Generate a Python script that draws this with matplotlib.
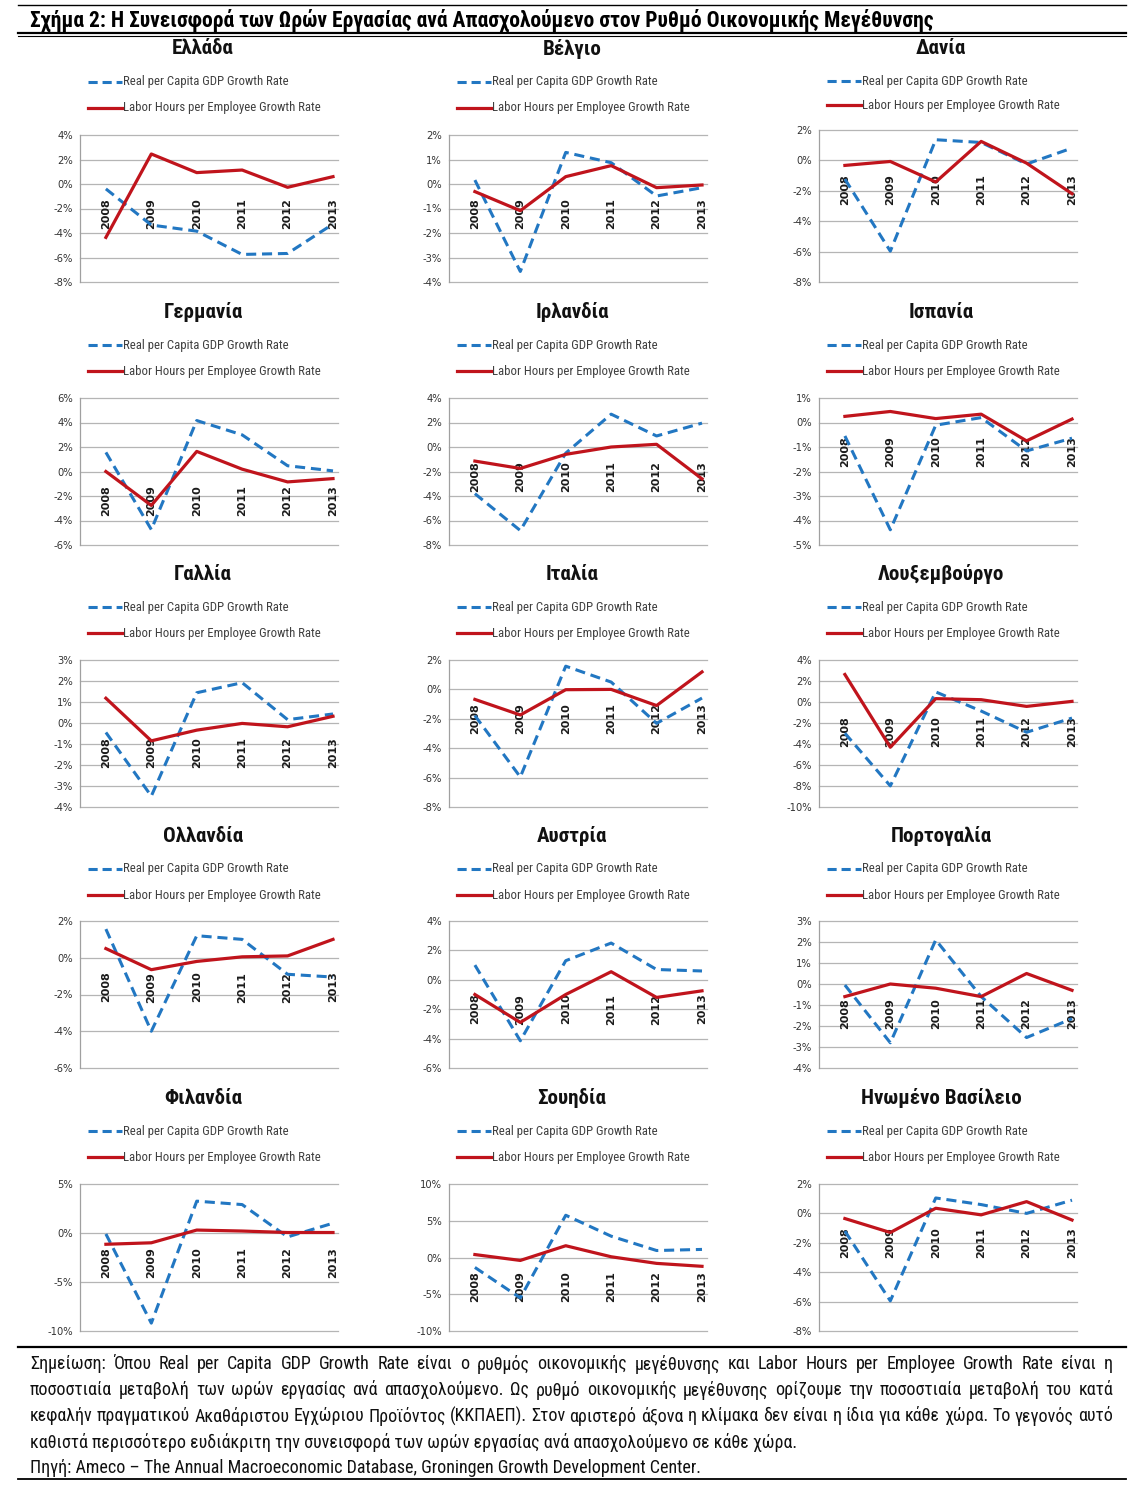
import matplotlib
matplotlib.use('Agg')
import matplotlib.pyplot as plt
from matplotlib import font_manager
from matplotlib.lines import Line2D

# ---------------- DATA ----------------
years = ['2008', '2009', '2010', '2011', '2012', '2013']
countries = ['Ελλάδα', 'Βέλγιο', 'Δανία',
             'Γερμανία', 'Ιρλανδία', 'Ισπανία',
             'Γαλλία', 'Ιταλία', 'Λουξεμβούργο',
             'Ολλανδία', 'Αυστρία', 'Πορτογαλία',
             'Φιλανδία', 'Σουηδία', 'Ηνωμένο Βασίλειο']

gdp_greece = [-0.4, -3.35, -3.85, -5.75, -5.67, -3.27]
hrs_greece = [-4.36, 2.45, 0.93, 1.14, -0.27, 0.6]
gdp_belgium = [0.16, -3.57, 1.29, 0.87, -0.49, -0.15]
hrs_belgium = [-0.31, -1.09, 0.3, 0.75, -0.15, -0.04]
gdp_denmark = [-1.23, -5.97, 1.36, 1.18, -0.24, 0.81]
hrs_denmark = [-0.33, -0.07, -1.42, 1.25, -0.18, -2.19]
gdp_germany = [1.56, -4.74, 4.16, 2.99, 0.47, 0.05]
hrs_germany = [0.0, -2.77, 1.64, 0.19, -0.85, -0.58]
gdp_ireland = [-3.81, -6.82, -0.5, 2.68, 0.9, 1.95]
hrs_ireland = [-1.15, -1.75, -0.6, 0.0, 0.22, -2.6]
gdp_spain = [-0.55, -4.38, -0.11, 0.2, -1.16, -0.64]
hrs_spain = [0.25, 0.45, 0.16, 0.34, -0.75, 0.14]
gdp_france = [-0.45, -3.48, 1.44, 1.92, 0.16, 0.43]
hrs_france = [1.18, -0.85, -0.34, -0.02, -0.18, 0.32]
gdp_italy = [-1.78, -5.96, 1.58, 0.5, -2.31, -0.59]
hrs_italy = [-0.68, -1.74, -0.02, 0.0, -1.1, 1.19]
gdp_luxembourg = [-2.97, -7.99, 0.96, -0.86, -2.88, -1.53]
hrs_luxembourg = [2.62, -4.31, 0.32, 0.22, -0.42, 0.06]
gdp_netherlands = [1.56, -4.0, 1.2, 1.0, -0.9, -1.05]
hrs_netherlands = [0.5, -0.65, -0.2, 0.05, 0.1, 1.0]
gdp_austria = [1.0, -4.15, 1.3, 2.5, 0.7, 0.6]
hrs_austria = [-1.0, -2.9, -1.0, 0.55, -1.2, -0.75]
gdp_portugal = [-0.05, -2.8, 2.1, -0.6, -2.55, -1.65]
hrs_portugal = [-0.6, 0.0, -0.2, -0.6, 0.5, -0.3]
gdp_finland = [-0.1, -9.2, 3.25, 2.9, -0.4, 1.0]
hrs_finland = [-1.15, -1.0, 0.3, 0.2, 0.05, 0.05]
gdp_sweden = [-1.35, -5.5, 5.75, 2.9, 0.95, 1.1]
hrs_sweden = [0.4, -0.4, 1.6, 0.1, -0.8, -1.2]
gdp_uk = [-1.2, -5.95, 1.05, 0.6, 0.0, 0.9]
hrs_uk = [-0.35, -1.3, 0.35, -0.1, 0.8, -0.45]

gdp_series = [gdp_greece, gdp_belgium, gdp_denmark, gdp_germany, gdp_ireland,
              gdp_spain, gdp_france, gdp_italy, gdp_luxembourg, gdp_netherlands,
              gdp_austria, gdp_portugal, gdp_finland, gdp_sweden, gdp_uk]
hrs_series = [hrs_greece, hrs_belgium, hrs_denmark, hrs_germany, hrs_ireland,
              hrs_spain, hrs_france, hrs_italy, hrs_luxembourg, hrs_netherlands,
              hrs_austria, hrs_portugal, hrs_finland, hrs_sweden, hrs_uk]

yticks_greece = [-8, -6, -4, -2, 0, 2, 4]
yticks_belgium = [-4, -3, -2, -1, 0, 1, 2]
yticks_denmark = [-8, -6, -4, -2, 0, 2]
yticks_germany = [-6, -4, -2, 0, 2, 4, 6]
yticks_ireland = [-8, -6, -4, -2, 0, 2, 4]
yticks_spain = [-5, -4, -3, -2, -1, 0, 1]
yticks_france = [-4, -3, -2, -1, 0, 1, 2, 3]
yticks_italy = [-8, -6, -4, -2, 0, 2]
yticks_luxembourg = [-10, -8, -6, -4, -2, 0, 2, 4]
yticks_netherlands = [-6, -4, -2, 0, 2]
yticks_austria = [-6, -4, -2, 0, 2, 4]
yticks_portugal = [-4, -3, -2, -1, 0, 1, 2, 3]
yticks_finland = [-10, -5, 0, 5]
yticks_sweden = [-10, -5, 0, 5, 10]
yticks_uk = [-8, -6, -4, -2, 0, 2]
ytick_sets = [yticks_greece, yticks_belgium, yticks_denmark, yticks_germany,
              yticks_ireland, yticks_spain, yticks_france, yticks_italy,
              yticks_luxembourg, yticks_netherlands, yticks_austria,
              yticks_portugal, yticks_finland, yticks_sweden, yticks_uk]

legend_gdp = 'Real per Capita GDP Growth Rate'
legend_hrs = 'Labor Hours per Employee Growth Rate'

title_text = ('Σχήμα 2: Η Συνεισφορά των Ωρών Εργασίας ανά Απασχολούμενο '
              'στον Ρυθμό Οικονομικής Μεγέθυνσης')
note_lines = [
    'Σημείωση: Όπου Real per Capita GDP Growth Rate είναι ο ρυθμός οικονομικής μεγέθυνσης και Labor Hours per Employee Growth Rate είναι η',
    'ποσοστιαία μεταβολή των ωρών εργασίας ανά απασχολούμενο. Ως ρυθμό οικονομικής μεγέθυνσης ορίζουμε την ποσοστιαία μεταβολή του κατά',
    'κεφαλήν πραγματικού Ακαθάριστου Εγχώριου Προϊόντος (ΚΚΠΑΕΠ). Στον αριστερό άξονα η κλίμακα δεν είναι η ίδια για κάθε χώρα. Το γεγονός αυτό',
    'καθιστά περισσότερο ευδιάκριτη την συνεισφορά των ωρών εργασίας ανά απασχολούμενο σε κάθε χώρα.',
    'Πηγή: Ameco – The Annual Macroeconomic Database, Groningen Growth Development Center.',
]

# ---------------- STYLE ----------------
W, H = 1145, 1503
BLUE = '#2277C2'
RED = '#C0141C'
GRID = '#b5b5b5'

# pick a narrow font if one is installed
entries = font_manager.fontManager.ttflist
names = {f.name for f in entries}
NARROW = ['DejaVu Sans']
NSTRETCH = 'normal'
for cand in ['Liberation Sans Narrow', 'Roboto Condensed', 'Open Sans Condensed',
             'Noto Sans Condensed', 'DejaVu Sans Condensed', 'Arial Narrow']:
    if cand in names:
        NARROW = [cand, 'DejaVu Sans']
        break
else:
    for fam in ['Noto Sans', 'Open Sans', 'Roboto', 'DejaVu Sans']:
        hit = [f for f in entries if f.name == fam and
               str(f.stretch) in ('condensed', 'semi-condensed', '500', '600',
                                  '300', '400')]
        if hit:
            NARROW = [fam, 'DejaVu Sans']
            NSTRETCH = 'condensed'
            break

fig = plt.figure(figsize=(W / 100, H / 100), dpi=100)
fig.patch.set_facecolor('white')
renderer = fig.canvas.get_renderer()


def fx(x):
    return x / W


def fy(y):
    return 1 - y / H


def measure(text, size, weight='normal', family=None):
    t = fig.text(0, 0, text, fontsize=size, fontweight=weight,
                 family=family or NARROW, fontstretch=NSTRETCH)
    w = t.get_window_extent(renderer).width
    t.remove()
    return w


def fit(text, target, weight='normal', family=None):
    return 10 * target / measure(text, 10, weight, family)


def hline(y, x0, x1, lw):
    fig.add_artist(Line2D([fx(x0), fx(x1)], [fy(y), fy(y)], color='black',
                          lw=lw, transform=fig.transFigure))


# ---------------- TITLE & RULES ----------------
hline(4.5, 18, 1126, 1.0)
ts = fit(title_text, 905, 'bold')
fig.text(fx(30), fy(20), title_text, fontsize=ts, fontweight='bold',
         family=NARROW, fontstretch=NSTRETCH, va='center', ha='left')
hline(32.5, 18, 1126, 1.6)
hline(35.8, 18, 1126, 0.8)

# ---------------- PANELS ----------------
col_left = [80, 449, 819]
row_top = [135, 398, 660, 921, 1184]
legend_y = [(82, 108), (345, 371), (607, 633), (869, 895), (1131, 1157)]
title_y = [49, 312, 574, 836, 1098]
col_center = [203, 572, 941]
AX_W = 258
AX_H = 147

title_size = fit('Ηνωμένο Βασίλειο', 160, 'bold')
leg_size = fit(legend_hrs, 196)

for i, name in enumerate(countries):
    r, c = divmod(i, 3)
    left = col_left[c]
    top = row_top[r]
    h = AX_H
    ly1, ly2 = legend_y[r]
    if i == 2:  # Denmark panel is slightly taller
        top, h = 130, 152
        ly1, ly2 = 81, 105
    ax = fig.add_axes([fx(left), fy(top + h), AX_W / W, h / H])
    ticks = ytick_sets[i]
    ax.set_ylim(ticks[0], ticks[-1])
    ax.set_xlim(-0.57, 5.11)
    for t in ticks:
        ax.axhline(t, color=GRID, lw=0.9, zorder=0.5, clip_on=False)
    ax.set_yticks(ticks)
    ax.set_yticklabels([f'{t}%' for t in ticks], fontsize=7.2, color='#333333',
                       family='DejaVu Sans')
    ax.tick_params(axis='y', length=0, pad=5)
    ax.set_xticks([])
    for s in ['top', 'right', 'bottom']:
        ax.spines[s].set_visible(False)
    ax.spines['left'].set_color('#a0a0a0')
    ax.spines['left'].set_linewidth(0.9)
    ax.patch.set_alpha(0)

    xs = list(range(len(years)))
    for k, yr in enumerate(years):
        ax.annotate(yr, (k, 0), xytext=(0, -10), textcoords='offset points',
                    rotation=90, ha='center', va='top', fontsize=8,
                    fontweight='bold', color='#1a1a1a', zorder=1.5,
                    family='DejaVu Sans', annotation_clip=False)
    ax.plot(xs, gdp_series[i], color=BLUE, lw=2.2, dashes=(3.3, 1.9),
            zorder=3, clip_on=False, solid_capstyle='butt')
    ax.plot(xs, hrs_series[i], color=RED, lw=2.3, zorder=4, clip_on=False,
            solid_joinstyle='round')

    # panel title
    fig.text(fx(col_center[c]), fy(title_y[r]), name, fontsize=title_size,
             fontweight='bold', family=NARROW, fontstretch=NSTRETCH,
             ha='center', va='center', color='#111111')
    # legend
    lx0 = left + 8
    lx1 = left + 42
    fig.add_artist(Line2D([fx(lx0), fx(lx1)], [fy(ly1), fy(ly1)], color=BLUE,
                          lw=2.2, dashes=(3.0, 1.6), transform=fig.transFigure))
    fig.add_artist(Line2D([fx(lx0), fx(lx1)], [fy(ly2), fy(ly2)], color=RED,
                          lw=2.3, transform=fig.transFigure))
    fig.text(fx(lx1 + 1), fy(ly1), legend_gdp, fontsize=leg_size,
             family=NARROW, fontstretch=NSTRETCH, va='center', ha='left',
             color='#404040')
    fig.text(fx(lx1 + 1), fy(ly2), legend_hrs, fontsize=leg_size,
             family=NARROW, fontstretch=NSTRETCH, va='center', ha='left',
             color='#404040')

# ---------------- NOTE ----------------
hline(1347, 18, 1126, 1.6)
note_size = min(fit(note_lines[3], 767), fit(note_lines[0], 1040))
note_y = [1364, 1390, 1416, 1442, 1468]
X0, X1 = 30, 1113
for j, line in enumerate(note_lines):
    if j < 3:
        words = line.split(' ')
        widths = [measure(wd, note_size) for wd in words]
        gap = (X1 - X0 - sum(widths)) / (len(words) - 1)
        x = X0
        for wd, wdt in zip(words, widths):
            fig.text(fx(x), fy(note_y[j]), wd, fontsize=note_size,
                     family=NARROW, fontstretch=NSTRETCH, va='center',
                     ha='left', color='#111111')
            x += wdt + gap
    else:
        fig.text(fx(X0), fy(note_y[j]), line, fontsize=note_size,
                 family=NARROW, fontstretch=NSTRETCH, va='center', ha='left',
                 color='#111111')
hline(1479, 18, 1126, 1.3)

fig.savefig('out.png', dpi=100, facecolor='white')
